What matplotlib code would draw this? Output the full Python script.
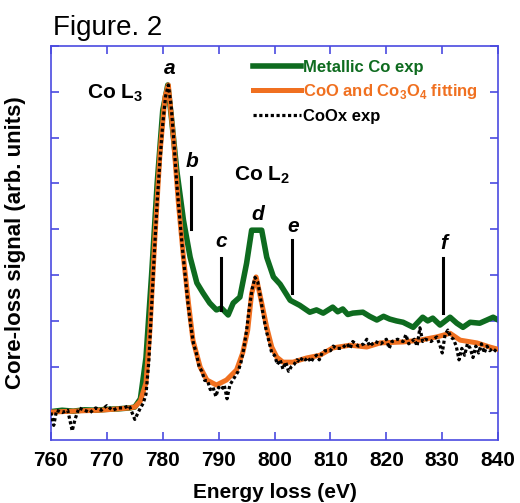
import matplotlib
matplotlib.use("Agg")
import matplotlib.pyplot as plt

plt.rcParams['font.family'] = ['Liberation Sans', 'DejaVu Sans']
plt.rcParams['mathtext.fontset'] = 'custom'
plt.rcParams['mathtext.rm'] = 'Liberation Sans'
plt.rcParams['mathtext.bf'] = 'Liberation Sans:bold'

# metallic Co exp (green)
e_co = [760, 762, 764, 766, 768, 770, 772, 774, 775, 776, 777, 778, 779, 780, 780.9,
        781.6, 782.5, 783.7, 784.9, 786.1, 787.2, 788.4, 789.6, 790.5, 791.7, 792.6,
        793.8, 795.0, 795.9, 796.5, 797.7, 798.6, 799.8, 801.0, 802.8, 804.5, 806.3,
        807.5, 808.7, 810.4, 811.3, 812.2, 813.1, 814.0, 815.8, 817.0, 818.3, 819.5,
        820.6, 821.8, 823.0, 824.8, 826.5, 827.4, 828.3, 829.6, 831.4, 832.6, 833.7,
        835.0, 836.7, 838.0, 839.1, 840]
y_co = [0.02, 0.05, 0.03, 0.06, 0.05, 0.07, 0.08, 0.1, 0.12, 0.3, 1.2, 3.0, 5.0, 6.6, 7.15,
        6.38, 5.29, 4.2, 3.39, 2.83, 2.61, 2.39, 2.24, 2.28, 2.13, 2.39,
        2.52, 3.26, 3.98, 3.98, 3.98, 3.39, 2.96, 2.8, 2.45, 2.34, 2.19,
        2.24, 2.17, 2.3, 2.2, 2.26, 2.14, 2.17, 2.19, 2.1, 2.02, 2.1,
        2.04, 2.0, 1.97, 1.86, 2.08, 2.0, 2.06, 1.91, 2.08, 1.95, 1.86,
        1.97, 1.95, 2.02, 2.08, 2.02]

# CoO and Co3O4 fitting (orange)
e_fit = [760, 762, 764, 766, 768.8, 771, 774.1, 775, 776, 777, 777.7, 778.6, 779.5, 780.4,
         781.0, 781.9, 782.8, 783.7, 784.6, 785.4, 786.7, 787.9, 789.6, 791.4, 793.2,
         794.3, 795.2, 795.9, 796.7, 797.7, 798.6, 799.5, 800.4, 801.5, 803.3, 805.7,
         808.1, 810.4, 813.5, 816.5, 818.9, 823.0, 826.0, 829.0, 831.4, 833.2, 836.2,
         838.5, 840]
y_fit = [0.01, 0.02, 0.03, 0.04, 0.05, 0.07, 0.1, 0.12, 0.25, 0.65, 1.8, 3.83, 5.66, 6.89,
         7.15, 6.01, 4.57, 3.39, 2.39, 1.58, 0.99, 0.71, 0.6, 0.71, 0.93,
         1.3, 1.8, 2.6, 2.96, 2.39, 1.86, 1.43, 1.21, 1.1, 1.1, 1.19,
         1.25, 1.41, 1.47, 1.43, 1.52, 1.54, 1.58, 1.65, 1.73, 1.58, 1.52,
         1.43, 1.38]

# CoOx exp (black dotted)
e_ox = [760, 760.5, 761, 762, 763, 763.8, 764.3, 765, 766, 767, 768, 769, 770, 771, 772,
        773, 774, 775, 776, 776.5, 777, 777.5, 778, 778.5, 779, 779.5, 780, 780.5, 781,
        781.5, 782, 782.5, 783, 783.5, 784, 784.5, 785, 785.5, 786, 786.5, 787, 787.5,
        788, 788.5, 789, 789.5, 790, 790.5, 791, 791.5, 792, 792.5, 793, 793.5, 794,
        794.5, 795, 795.5, 796, 796.5, 797, 797.5, 798, 798.5, 799, 799.5, 800, 800.5,
        801, 801.5, 802, 802.5, 803, 803.5, 804, 804.5, 805, 805.5, 806, 806.5, 807,
        807.5, 808, 808.5, 809, 810, 810.5, 811, 812, 813, 813.5, 814, 815, 816, 816.5,
        817, 818, 819, 820, 820.5, 821, 822, 823, 823.5, 824, 825, 825.5, 826, 826.5,
        827, 828, 829, 829.5, 830, 830.5, 831, 831.5, 832, 832.5, 833, 833.5, 834,
        834.5, 835, 835.5, 836, 836.5, 837, 837.5, 838, 838.5, 839, 840]
y_ox = [0.0, -0.28, 0.05, 0.0, 0.05, -0.4, -0.15, 0.1, 0.05, 0.0, 0.1, 0.05, 0.15, 0.05, 0.1,
        0.1, 0.15, -0.15, 0.1, 0.2, 0.4, 1.1, 2.3, 3.5, 4.6, 5.5, 6.3, 6.9, 7.15,
        6.7, 5.9, 5.0, 4.3, 3.6, 3.0, 2.4, 1.9, 1.5, 1.3, 1.0, 0.9, 0.7,
        0.7, 0.5, 0.55, 0.35, 0.55, 0.5, 0.6, 0.3, 0.6, 0.7, 0.8, 0.9, 1.1,
        1.4, 1.8, 2.3, 2.7, 2.95, 2.85, 2.5, 2.1, 1.8, 1.55, 1.3, 1.25, 1.05,
        1.15, 0.95, 1.1, 0.9, 1.0, 1.05, 1.15, 1.1, 1.2, 1.15, 1.2, 1.1, 1.2,
        1.25, 1.15, 1.3, 1.35, 1.35, 1.45, 1.4, 1.4, 1.5, 1.4, 1.55, 1.45, 1.5, 1.6,
        1.45, 1.55, 1.5, 1.6, 1.4, 1.55, 1.6, 1.55, 1.7, 1.5, 1.6, 1.45, 1.85, 1.55,
        1.6, 1.55, 1.65, 1.5, 1.3, 1.7, 1.8, 1.65, 1.6, 1.45, 1.15, 1.4, 1.25,
        1.5, 1.4, 1.2, 1.45, 1.3, 1.5, 1.3, 1.45, 1.35, 1.4, 1.3]

# peak markers: label, label position, line x, line y range
marks = [('a', 781.3, 7.52, None, None, None),
         ('b', 785.3, 5.47, 785.0, 4.0, 5.14),
         ('c', 790.4, 3.74, 790.4, 2.24, 3.37),
         ('d', 797.0, 4.33, None, None, None),
         ('e', 803.4, 4.05, 803.2, 2.61, 3.76),
         ('f', 830.2, 3.68, 830.1, 2.17, 3.37)]

green = '#0e6b1f'
orange = '#f07020'
blue = '#4a4ae0'

fig = plt.figure(figsize=(5.2, 5.03), dpi=100)
ax = fig.add_axes([0.098, 0.1252, 0.86, 0.7833])

ax.plot(e_co, y_co, color=green, lw=4.0, solid_joinstyle='round', label='Metallic Co exp', zorder=2)
ax.plot(e_fit, y_fit, color=orange, lw=3.6, solid_joinstyle='round',
        label=r'CoO and Co$_\mathbf{3}$O$_\mathbf{4}$ fitting', zorder=3)
ax.plot(e_ox, y_ox, color='black', lw=2.3, linestyle=(0, (1.0, 0.8)), label='CoOx exp', zorder=4)

ax.set_xlim(760, 840)
ax.set_ylim(-0.6, 8)
ax.set_xticks(range(760, 841, 10))
ax.set_yticks(range(0, 9))
ax.set_yticklabels([])
ax.tick_params(direction='in', length=6, width=1.2, color=blue, top=True, right=True,
               labelsize=15, pad=8)
for lab in ax.get_xticklabels():
    lab.set_fontweight('bold')
for sp in ax.spines.values():
    sp.set_color(blue)
    sp.set_linewidth(1.2)

ax.set_xlabel('Energy loss (eV)', fontsize=15, fontweight='bold', labelpad=9)
ax.set_ylabel('Core-loss signal (arb. units)', fontsize=16, fontweight='bold', labelpad=10)

for lab, lx, ly, mx, y0, y1 in marks:
    ax.text(lx, ly, lab, fontsize=15, fontweight='bold', fontstyle='italic', ha='center', va='center')
    if mx is not None:
        ax.plot([mx, mx], [y0, y1], color='black', lw=2.2)

ax.text(771.4, 6.98, r'Co L$_\mathbf{3}$', fontsize=15, fontweight='bold', ha='center', va='center')
ax.text(797.7, 5.18, r'Co L$_\mathbf{2}$', fontsize=15, fontweight='bold', ha='center', va='center')

leg = ax.legend(loc='upper left', bbox_to_anchor=(0.425, 0.995), frameon=False,
                handlelength=2.9, handletextpad=0.1, labelspacing=0.45, borderpad=0.2,
                labelcolor=[green, orange, 'black'], prop={'weight': 'bold', 'size': 12})

fig.text(53 / 520, 1 - 35 / 503, 'Figure. 2', fontsize=20, va='baseline')

fig.savefig('out.png', dpi=100)
